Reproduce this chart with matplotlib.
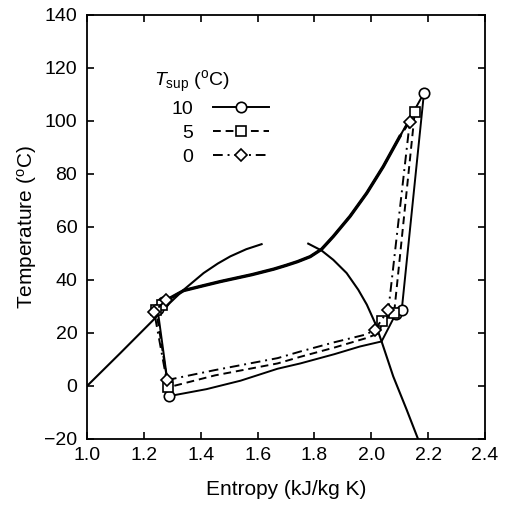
import matplotlib
matplotlib.use("Agg")
import matplotlib.pyplot as plt

plt.rcParams['font.family'] = ['Liberation Sans', 'DejaVu Sans']
plt.rcParams['mathtext.fontset'] = 'custom'
plt.rcParams['mathtext.rm'] = 'Liberation Sans'
plt.rcParams['mathtext.it'] = 'Liberation Sans:italic'

# saturation dome (liquid and vapour sides)
liq_s = [1.0, 1.117, 1.234, 1.293, 1.340, 1.410, 1.460, 1.504, 1.56, 1.614]
liq_T = [0.0, 12.4, 25.0, 31.5, 36.3, 42.6, 46.2, 48.9, 51.6, 53.5]
vap_s = [1.778, 1.825, 1.866, 1.913, 1.954, 1.984, 2.013, 2.036, 2.077, 2.124, 2.166]
vap_T = [53.7, 51.1, 47.6, 42.6, 36.3, 30.7, 23.8, 16.8, 3.6, -8.9, -20.5]

# gas cooler path, common to the three cycles
gc_s = [2.10, 2.042, 1.984, 1.925, 1.866, 1.825, 1.785, 1.74, 1.70, 1.657, 1.58,
        1.469, 1.40, 1.340, 1.293]
gc_T = [94.1, 82.8, 72.8, 64.0, 56.4, 51.6, 48.8, 46.9, 45.5, 44.1, 42.0,
        39.4, 37.6, 36.0, 33.2]

# superheat cases
labels = ['10', '5', '0']
disc_s = [2.185, 2.153, 2.135]
disc_T = [110.5, 103.5, 99.5]
gco_s = [1.268, 1.262, 1.278]
gco_T = [31.5, 30.7, 32.5]
ihx_s = [1.248, 1.243, 1.236]
ihx_T = [29.0, 28.5, 28.0]
exp_s = [1.290, 1.286, 1.280]
exp_T = [-3.8, -0.5, 2.2]
evap_s = [[1.42, 1.54, 1.67, 1.75, 1.87, 1.96, 2.036],
          [1.45, 1.67, 1.75, 1.87, 1.98, 2.03],
          [1.45, 1.67, 1.75, 1.87, 1.98]]
evap_T = [[-1.2, 2.0, 6.5, 8.5, 12.0, 14.9, 16.8],
          [4.0, 8.5, 11.0, 14.5, 18.0, 20.0],
          [6.0, 10.5, 13.0, 16.5, 19.4]]
evo_s = [2.085, 2.036, 2.013]
evo_T = [27.0, 24.4, 21.2]
suc_s = [2.107, 2.080, 2.060]
suc_T = [28.8, 27.5, 28.8]

styles = ['-', (0, (4, 2.5)), (0, (5, 2.5, 1, 2.5))]
markers = ['o', 's', 'D']
msizes = [7.5, 6.5, 6.5]

fig = plt.figure(figsize=(5.09, 5.12), dpi=100)
ax = fig.add_axes([0.171, 0.1426, 0.782, 0.8283])

ax.plot(liq_s, liq_T, color='black', lw=1.5)
ax.plot(vap_s, vap_T, color='black', lw=1.5)
ax.plot(gc_s, gc_T, color='black', lw=2.4, solid_joinstyle='round')

handles = []
for i in range(3):
    s = [disc_s[i]] + gc_s + [gco_s[i], ihx_s[i], exp_s[i]] + evap_s[i] + [evo_s[i], suc_s[i], disc_s[i]]
    T = [disc_T[i]] + gc_T + [gco_T[i], ihx_T[i], exp_T[i]] + evap_T[i] + [evo_T[i], suc_T[i], disc_T[i]]
    n = len(gc_s)
    k = n + 4 + len(evap_s[i])
    mk = [0, n + 1, n + 2, n + 3, k, k + 1]
    ln, = ax.plot(s, T, color='black', lw=1.4, ls=styles[i], marker=markers[i],
                  ms=msizes[i], mfc='white', mec='black', mew=1.2, markevery=mk,
                  label=labels[i])
    handles.append(ln)

ax.set_xlim(1.0, 2.4)
ax.set_ylim(-20, 140)
ax.set_xticks([1.0, 1.2, 1.4, 1.6, 1.8, 2.0, 2.2, 2.4])
ax.set_yticks(range(-20, 141, 20))
ax.tick_params(direction='in', top=True, right=True, length=5, width=1.2,
               labelsize=14)
ax.tick_params(axis='x', pad=6)
ax.tick_params(axis='y', pad=7)
for sp in ax.spines.values():
    sp.set_linewidth(1.3)

ax.set_xlabel('Entropy (kJ/kg K)', fontsize=15, labelpad=11)
ax.set_ylabel(r'Temperature ($^{\rm o}$C)', fontsize=15, labelpad=4)

ax.text(0.168, 0.843, r'$\it{T}_{\rm sup}$ ($^{\rm o}$C)', transform=ax.transAxes,
        fontsize=14, va='center', ha='left')
ax.legend(handles=handles, loc='upper left', bbox_to_anchor=(0.213, 0.798),
          frameon=False, markerfirst=False, handlelength=2.9, handletextpad=1.0,
          fontsize=14, labelspacing=0.32, borderpad=0, borderaxespad=0)

fig.savefig('out.png', dpi=100)
